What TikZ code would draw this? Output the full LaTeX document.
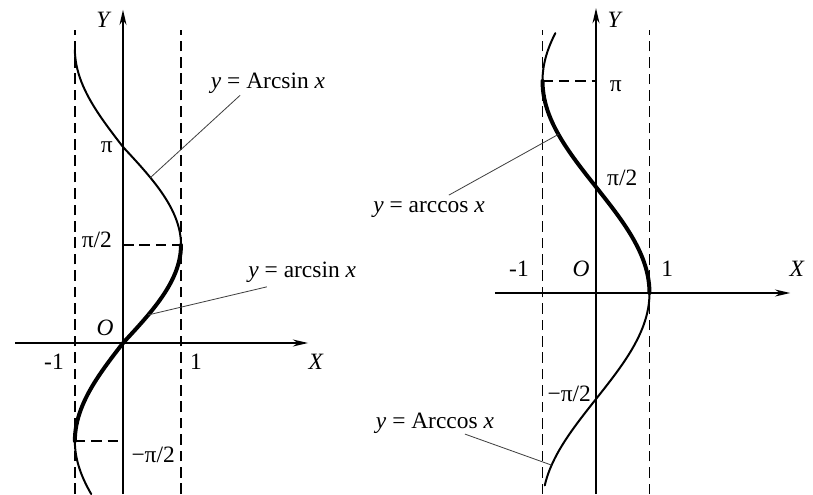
\documentclass[tikz,border=0pt]{standalone}
\usepackage{fontspec}
\setmainfont{Liberation Serif}
\usetikzlibrary{arrows.meta}

\begin{document}
\begin{tikzpicture}[
  x=0.03cm,
  y=0.03cm,
  axis/.style={
    line width=1.2pt,
    -{Stealth[length=13pt,width=6pt]}
  },
  guide/.style={
    line width=1.1pt,
    dash pattern=on 9pt off 5pt
  },
  thincurve/.style={
    line width=1.7pt,
    line cap=round
  },
  thickcurve/.style={
    line width=3.4pt,
    line cap=round
  },
  leader/.style={
    line width=0.7pt,
    black!75
  },
  lbl/.style={
    font=\fontsize{20}{24}\selectfont,
    inner sep=1pt
  },
  declare function={lsin(\t)=(sin(\t r)<0 ? 0.83 : 1)*sin(\t r);}
]

\useasboundingbox (0,0) rectangle (813,494);

% Left: y = arcsin x
\begin{scope}[shift={(123,151)}, x=1.74cm, y=1.872cm]
  \draw[guide] (-0.83,-2.42) -- (-0.83,5.02);
  \draw[guide] (1,-2.42) -- (1,5.02);
  \draw[guide] (0,1.5708) -- (1,1.5708);
  \draw[guide] (-0.83,-1.5708) -- (0,-1.5708);

  \draw[axis] (-1.86,0) -- (3.19,0);
  \draw[axis] (0,-2.42) -- (0,5.34);

  \draw[thincurve] plot[domain=-2.42:-1.5708, samples=30, smooth] ({lsin(\x)}, \x);
  \draw[thickcurve] plot[domain=-1.5708:1.5708, samples=50, smooth] ({lsin(\x)}, \x);
  \draw[thincurve] plot[domain=1.5708:4.70, samples=50, smooth] ({lsin(\x)}, \x);

  \node[lbl] (lY) at (-0.33,5.18) {\textit{Y}};
  \node[lbl] (lX) at (3.33,-0.30) {\textit{X}};
  \node[lbl] (lO) at (-0.31,0.24) {\textit{O}};
  \node[lbl] (lone) at (1.26,-0.30) {1};
  \node[lbl] (lmone) at (-1.19,-0.30) {-1};
  \node[lbl] (lpi) at (-0.28,3.14) {π};
  \node[lbl] (lhalfpi) at (-0.45,1.65) {π/2};
  \node[lbl] (lmhalfpi) at (0.52,-1.79) {−π/2};

  \node[lbl] (bigarcsin) at (2.5,4.17) {\textit{y} = Arcsin \textit{x}};
  \node[lbl] (arcsin) at (3.09,1.14) {\textit{y} = arcsin \textit{x}};

  \coordinate (bigarcsinfrom) at (2.02,3.97);
  \coordinate (bigarcsinto) at ({lsin(2.65)},2.65);
  \coordinate (arcsinfrom) at (2.48,0.90);
  \coordinate (arcsinto) at ({lsin(0.45)},0.45);
  \draw[leader] (bigarcsinfrom) -- (bigarcsinto);
  \draw[leader] (arcsinfrom) -- (arcsinto);
\end{scope}

% Right: y = arccos x
\begin{scope}[shift={(596,201)}, x=1.605cm, y=2.025cm]
  \draw[guide] (-1,-2.98) -- (-1,3.90);
  \draw[guide] (1,-2.98) -- (1,3.90);
  \draw[guide] (-1,3.1416) -- (0,3.1416);

  \draw[axis] (-1.89,0) -- (3.63,0);
  \draw[axis] (0,-2.98) -- (0,4.22);

  \draw[thincurve] plot[domain=-2.85:0, samples=50, smooth] ({cos(\x r)}, \x);
  \draw[thickcurve] plot[domain=0:3.1416, samples=50, smooth] ({cos(\x r)}, \x);
  \draw[thincurve] plot[domain=3.1416:3.85, samples=20, smooth] ({cos(\x r)}, \x);

  \node[lbl] (rY) at (0.36,4.04) {\textit{Y}};
  \node[lbl] (rX) at (3.76,0.36) {\textit{X}};
  \node[lbl] (rO) at (-0.28,0.36) {\textit{O}};
  \node[lbl] (rone) at (1.33,0.36) {1};
  \node[lbl] (rmone) at (-1.44,0.36) {-1};
  \node[lbl] (rpi) at (0.37,3.07) {π};
  \node[lbl] (rhalfpi) at (0.49,1.70) {π/2};
  \node[lbl] (rmhalfpi) at (-0.50,-1.50) {−π/2};

  \node[lbl] (arccos) at (-3.12,1.24) {\textit{y} = arccos \textit{x}};
  \node[lbl] (bigarccos) at (-3.01,-1.93) {\textit{y} = Arccos \textit{x}};

  \coordinate (arccosfrom) at (-2.75,1.45);
  \coordinate (arccosto) at ({cos(2.35 r)},2.35);
  \coordinate (bigarccosfrom) at (-2.45,-2.09);
  \coordinate (bigarccosto) at ({cos(-2.55 r)},-2.55);
  \draw[leader] (arccosfrom) -- (arccosto);
  \draw[leader] (bigarccosfrom) -- (bigarccosto);
\end{scope}

\end{tikzpicture}
\end{document}
